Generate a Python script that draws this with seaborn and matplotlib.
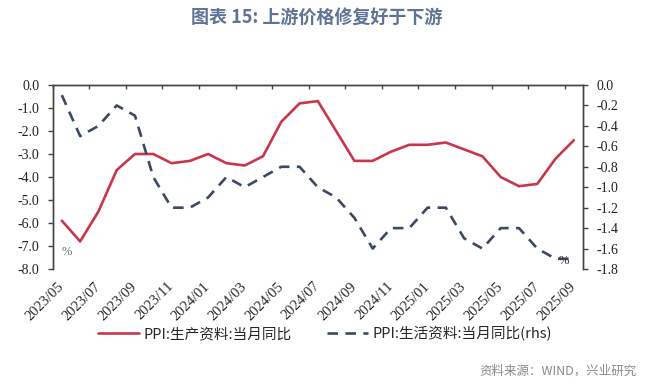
import numpy as np
import pandas as pd
import matplotlib
matplotlib.use('Agg')
import matplotlib.pyplot as plt
import seaborn as sns

# monthly labels 2023/05 - 2025/09
months = ['2023/05', '2023/06', '2023/07', '2023/08', '2023/09', '2023/10', '2023/11', '2023/12',
          '2024/01', '2024/02', '2024/03', '2024/04', '2024/05', '2024/06', '2024/07', '2024/08',
          '2024/09', '2024/10', '2024/11', '2024/12', '2025/01', '2025/02', '2025/03', '2025/04',
          '2025/05', '2025/06', '2025/07', '2025/08', '2025/09']

# PPI: production materials, yoy (left axis)
ppi_production = [-5.9, -6.8, -5.5, -3.7, -3.0, -3.0, -3.4, -3.3,
                  -3.0, -3.4, -3.5, -3.1, -1.6, -0.8, -0.7, -2.0,
                  -3.3, -3.3, -2.9, -2.6, -2.6, -2.5, -2.8, -3.1,
                  -4.0, -4.4, -4.3, -3.2, -2.4]

# PPI: consumer goods, yoy (right axis)
ppi_consumer = [-0.1, -0.5, -0.4, -0.2, -0.3, -0.9, -1.2, -1.2,
                -1.1, -0.9, -1.0, -0.9, -0.8, -0.8, -1.0, -1.1,
                -1.3, -1.6, -1.4, -1.4, -1.2, -1.2, -1.5, -1.6,
                -1.4, -1.4, -1.6, -1.7, -1.7]

label_production = 'PPI:生产资料:当月同比'
label_consumer = 'PPI:生活资料:当月同比(rhs)'
title = '图表 15: 上游价格修复好于下游'
source = '资料来源：WIND，兴业研究'

left_ticks = [0.0, -1.0, -2.0, -3.0, -4.0, -5.0, -6.0, -7.0, -8.0]
right_ticks = [0.0, -0.2, -0.4, -0.6, -0.8, -1.0, -1.2, -1.4, -1.6, -1.8]

df = pd.DataFrame({'idx': np.arange(len(months)), 'month': months,
                   'prod': ppi_production, 'cons': ppi_consumer})

sns.set_style('white')
plt.rcParams['font.family'] = ['Noto Sans CJK SC', 'DejaVu Sans']

red = '#C8364C'
navy = '#3B4963'
spine_col = '#444444'
serif = ['Liberation Serif', 'DejaVu Serif']

W, H = 660, 387
fig = plt.figure(figsize=(W / 100, H / 100), dpi=100)
ax_l, ax_r, ax_t, ax_b = 52.7, 583, 85, 269
ax = fig.add_axes([ax_l / W, 1 - ax_b / H, (ax_r - ax_l) / W, (ax_b - ax_t) / H])
ax2 = ax.twinx()

sns.lineplot(data=df, x='idx', y='prod', ax=ax, color=red, linewidth=1.9, legend=False)
sns.lineplot(data=df, x='idx', y='cons', ax=ax2, color=navy, linewidth=1.9, legend=False)
ax2.lines[0].set_dashes((4, 2.8))

n = len(months)
ax.set_xlim(-0.5, n - 0.5)
ax.set_ylim(-8.0, 0.0)
ax2.set_ylim(-1.8, 0.0)

ax.set_yticks(left_ticks)
ax.set_yticklabels([f'{v:.1f}' for v in left_ticks], fontfamily=serif, fontsize=10)
ax2.set_yticks(right_ticks)
ax2.set_yticklabels([f'{v:.1f}' for v in right_ticks], fontfamily=serif, fontsize=10)

# labels every 2 months, tick marks between categories on top spine
ax.set_xticks(df['idx'][::2])
ax.set_xticklabels(df['month'][::2], rotation=45, ha='right', va='center',
                   rotation_mode='anchor', fontfamily=serif, fontsize=10.5)
ax.set_xticks(np.arange(-0.5, n - 0.5, 2), minor=True)
ax.tick_params(axis='x', which='major', bottom=False, top=False, length=0, pad=11)
ax.tick_params(axis='x', which='minor', bottom=False, top=True, direction='in',
               length=3, width=1.0, color=spine_col)
ax.tick_params(axis='y', which='major', left=True, direction='out', length=3.5,
               width=1.0, color=spine_col, pad=6, labelcolor='#222222')
ax2.tick_params(axis='y', which='major', right=True, direction='out', length=3.5,
                width=1.0, color=spine_col, pad=6, labelcolor='#222222')
ax.set_xlabel('')
ax.set_ylabel('')
ax2.set_ylabel('')

for a in (ax, ax2):
    a.spines['bottom'].set_visible(False)
    for s in ('left', 'right', 'top'):
        a.spines[s].set_color(spine_col)
        a.spines[s].set_linewidth(1.0)
ax.grid(False)
ax2.grid(False)

# unit marks
fig.text(67 / W, 1 - 252 / H, '%', ha='center', va='center', fontsize=9,
         color='#5f7a78', fontfamily=serif)
fig.text(564 / W, 1 - 261 / H, '%', ha='center', va='center', fontsize=9,
         color='#333333', fontfamily=serif)

handles = [ax.lines[0], ax2.lines[0]]
fig.legend(handles, [label_production, label_consumer], loc='center',
           bbox_to_anchor=(325 / W, 1 - 334 / H), ncol=2, frameon=False,
           fontsize=10.5, handlelength=2.8, handletextpad=0.35, columnspacing=2.4)

fig.text(317 / W, 1 - 17 / H, title, ha='center', va='center', fontsize=13,
         fontweight='bold', color='#5F7494')
fig.text(637 / W, 1 - 371 / H, source, ha='right', va='center', fontsize=9,
         color='#8a8a8a')

fig.savefig('out.png', dpi=100)
